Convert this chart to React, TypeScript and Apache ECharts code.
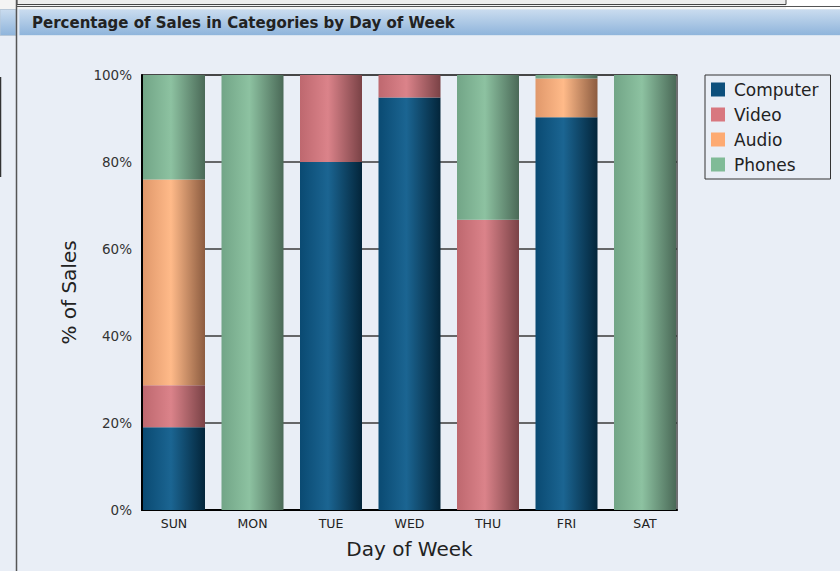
import React, { useEffect, useRef } from "react";
import * as echarts from "echarts";

const days = ["SUN", "MON", "TUE", "WED", "THU", "FRI", "SAT"];
const computer = [19.0, 0, 80.0, 94.8, 0, 90.3, 0];
const video = [9.7, 0, 20.0, 5.2, 66.7, 0, 0];
const audio = [47.3, 0, 0, 0, 0, 8.9, 0];
const phones = [24.0, 100, 0, 0, 33.3, 0.8, 100];
const seriesNames = ["Computer", "Video", "Audio", "Phones"];
const yTickStep = 20;

const FONT = "DejaVu Sans";

const legendColors: Record<string, string> = {
  Computer: "#0d4f7c",
  Video: "#d8777f",
  Audio: "#fdaa72",
  Phones: "#80bb97",
};

const gradStops: Record<string, string[]> = {
  Computer: ["#0a4a72", "#1b6592", "#03253a"],
  Video: ["#be686f", "#db838a", "#7a4246"],
  Audio: ["#e0986b", "#ffba89", "#8c5c40"],
  Phones: ["#72a587", "#8dc2a1", "#4a6957"],
};

function grad(name: string) {
  const s = gradStops[name];
  return new echarts.graphic.LinearGradient(0, 0, 1, 0, [
    { offset: 0, color: s[0] },
    { offset: 0.45, color: s[1] },
    { offset: 1, color: s[2] },
  ]);
}

export default function App() {
  const ref = useRef<HTMLDivElement>(null);
  useEffect(() => {
    if (!ref.current) return;
    const chart = echarts.init(ref.current, null, { renderer: "svg" });
    const dataMap: Record<string, number[]> = {
      Computer: computer,
      Video: video,
      Audio: audio,
      Phones: phones,
    };
    const headerGrad = new echarts.graphic.LinearGradient(0, 0, 0, 1, [
      { offset: 0, color: "#cadcef" },
      { offset: 1, color: "#8eb4db" },
    ]);
    chart.setOption({
      animation: false,
      backgroundColor: "#e9eef6",
      graphic: [
        { type: "rect", shape: { x: 0, y: 0, width: 840, height: 9 }, style: { fill: "#f4f4f4" }, silent: true },
        { type: "rect", shape: { x: 786, y: 0, width: 54, height: 9 }, style: { fill: "#ffffff" }, silent: true },
        { type: "rect", shape: { x: 17, y: -2, width: 769, height: 6.5 }, style: { fill: "#ededed", stroke: "#444", lineWidth: 1 }, silent: true },
        { type: "line", shape: { x1: 17, y1: 6.5, x2: 840, y2: 6.5 }, style: { stroke: "#555", lineWidth: 1 }, silent: true },
        { type: "rect", shape: { x: 0, y: 9.5, width: 16, height: 26 }, style: { fill: headerGrad, stroke: "#b8c8d8", lineWidth: 1 }, silent: true },
        { type: "rect", shape: { x: 19, y: 9.5, width: 822, height: 26 }, style: { fill: headerGrad, stroke: "#d8e4f0", lineWidth: 1 }, silent: true },
        { type: "line", shape: { x1: 16.5, y1: 0, x2: 16.5, y2: 571 }, style: { stroke: "#555", lineWidth: 1.5 }, silent: true },
        { type: "line", shape: { x1: 0.5, y1: 77, x2: 0.5, y2: 177 }, style: { stroke: "#333", lineWidth: 1.5 }, silent: true },
        {
          type: "text",
          x: 32,
          y: 22.5,
          style: {
            text: "Percentage of Sales in Categories by Day of Week",
            fontFamily: FONT,
            fontWeight: "bold",
            fontSize: 15,
            fill: "#222",
            verticalAlign: "middle",
          },
          silent: true,
        },
      ],
      legend: {
        orient: "vertical",
        left: 705,
        top: 75,
        selectedMode: false,
        borderColor: "#333",
        borderWidth: 1,
        padding: [6, 12, 6, 6],
        itemWidth: 14,
        itemHeight: 14,
        itemGap: 8,
        icon: "rect",
        textStyle: { fontFamily: FONT, fontSize: 17, lineHeight: 17, color: "#222", padding: [0, 0, 0, 4] },
        data: seriesNames.map((n) => ({ name: n, itemStyle: { color: legendColors[n] } })),
      },
      grid: [
        {
          left: 142,
          top: 75,
          width: 535,
          height: 435,
          show: true,
          borderColor: "#444",
          borderWidth: 1.5,
          backgroundColor: "transparent",
        },
        { left: 134.75, top: 75, width: 549.5, height: 435 },
      ],
      xAxis: [
        {
          type: "value",
          gridIndex: 0,
          min: 0,
          max: 1,
          axisLine: { show: true, onZero: false, lineStyle: { color: "#000", width: 2 } },
          axisTick: { show: false },
          axisLabel: { show: false },
          splitLine: { show: false },
          name: "Day of Week",
          nameLocation: "middle",
          nameGap: 29,
          nameTextStyle: { fontFamily: FONT, fontSize: 20, color: "#222" },
        },
        {
          type: "category",
          gridIndex: 1,
          data: days,
          axisLine: { show: false },
          axisTick: { show: false },
          axisLabel: { fontFamily: FONT, fontSize: 12.5, color: "#222", margin: 7 },
        },
      ],
      yAxis: [
        {
          type: "value",
          gridIndex: 0,
          min: 0,
          max: 100,
          interval: yTickStep,
          axisLine: { show: true, lineStyle: { color: "#000", width: 2 } },
          axisTick: { show: false },
          axisLabel: { formatter: "{value}%", fontFamily: FONT, fontSize: 13.5, color: "#333", margin: 10 },
          splitLine: { show: true, lineStyle: { color: "#3a3a3a", width: 1.5 } },
          name: "% of Sales",
          nameLocation: "middle",
          nameGap: 63,
          nameTextStyle: { fontFamily: FONT, fontSize: 20, color: "#222" },
        },
        {
          type: "value",
          gridIndex: 1,
          min: 0,
          max: 100,
          show: false,
          splitLine: { show: false },
        },
      ],
      series: seriesNames.map((n) => ({
        name: n,
        type: "bar",
        stack: "total",
        xAxisIndex: 1,
        yAxisIndex: 1,
        barWidth: 62,
        data: dataMap[n],
        itemStyle: { color: grad(n) },
      })),
    });
    return () => chart.dispose();
  }, []);
  return (
    <div
      ref={ref}
      style={{ position: "absolute", left: 0, top: 0, width: 840, height: 571 }}
    />
  );
}
